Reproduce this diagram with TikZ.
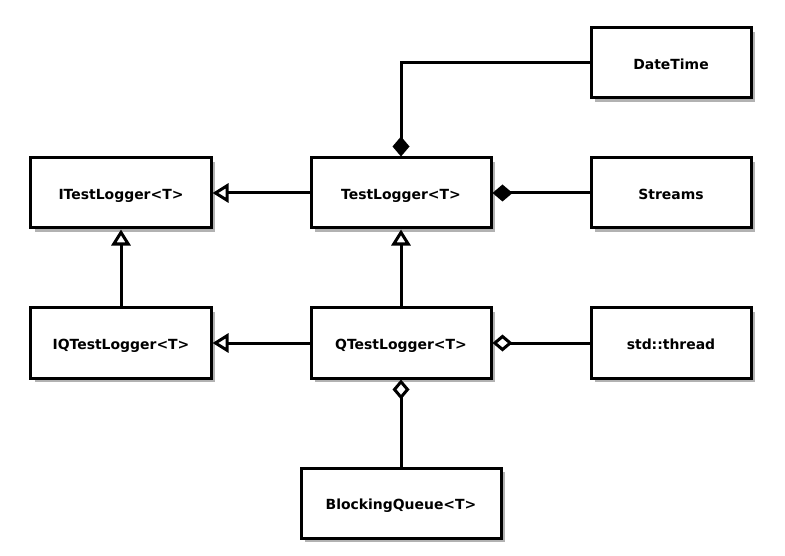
\documentclass[tikz,border=0pt]{standalone}
\usepackage{fontspec}
\setmainfont{DejaVu Sans}
\usetikzlibrary{arrows.meta,shadows}
\begin{document}
\begin{tikzpicture}[x=1bp,y=-1bp,
  cls/.style={draw=black, line width=3bp, fill=white, minimum height=70bp,
    inner sep=0pt, font=\fontsize{14}{16}\selectfont\bfseries,
    text height=13bp, text depth=0bp,
    drop shadow={shadow xshift=4bp, shadow yshift=-4bp, fill=black!30, opacity=1}},
  wide/.style={cls, minimum width=180bp},
  narrow/.style={cls, minimum width=160bp},
  conn/.style={line width=3bp, line join=miter},
  inherit/.style={conn, -{Triangle[open, length=16bp, width=19bp]}},
  compose/.style={conn, -{Diamond[length=20bp, width=17bp]}},
  aggreg/.style={conn, -{Diamond[open, length=20bp, width=17bp]}}
]
\useasboundingbox (0,0) rectangle (785,556);
\fill[white] (0,0) rectangle (785,556);

\node[wide]   (itl)  at (121,193) {ITestLogger<T>};
\node[wide]   (tl)   at (401,193) {TestLogger<T>};
\node[narrow] (dt)   at (671,63)  {DateTime};
\node[narrow] (st)   at (671,193) {Streams};
\node[wide]   (iqtl) at (121,343) {IQTestLogger<T>};
\node[wide]   (qtl)  at (401,343) {QTestLogger<T>};
\node[narrow] (thr)  at (671,343) {std::thread};
\node[cls, minimum width=200bp] (bq) at (401,503) {BlockingQueue<T>};

\draw[inherit] (tl.west) -- (itl.east);
\draw[inherit] (iqtl.north) -- (itl.south);
\draw[inherit] (qtl.west) -- (iqtl.east);
\draw[inherit] (qtl.north) -- (tl.south);
\draw[compose] (dt.west) -| (tl.north);
\draw[compose] (st.west) -- (tl.east);
\draw[aggreg] (thr.west) -- (qtl.east);
\draw[aggreg] (bq.north) -- (qtl.south);
\end{tikzpicture}
\end{document}
